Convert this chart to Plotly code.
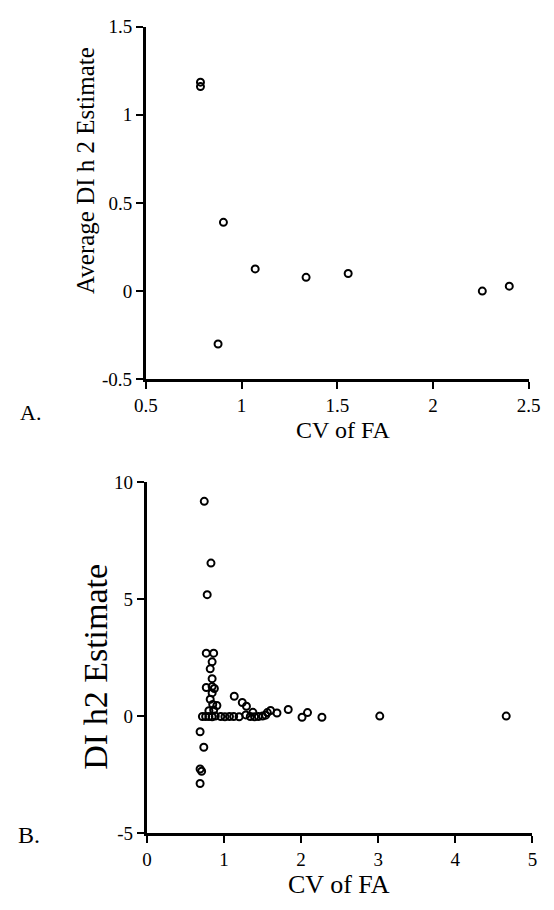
import plotly.graph_objects as go

# Panel A data
a_cv = [0.785, 0.785, 0.905, 1.071, 1.337, 1.557, 2.258, 2.399, 0.877]
a_h2 = [1.185, 1.16, 0.39, 0.126, 0.078, 0.10, 0.0, 0.028, -0.30]
a_xticks = [0.5, 1, 1.5, 2, 2.5]
a_xlabels = ["0.5", "1", "1.5", "2", "2.5"]
a_yticks = [-0.5, 0, 0.5, 1, 1.5]
a_ylabels = ["-0.5", "0", "0.5", "1", "1.5"]

# Panel B data
b_cv = [0.744, 0.831, 0.782,
        0.770, 0.866, 0.846, 0.821, 0.846, 0.770, 0.846, 0.875, 0.846, 0.821, 0.854, 0.908, 0.804, 0.866,
        1.133, 1.237, 1.291, 1.375, 1.562, 1.604, 1.687, 1.833, 2.012, 2.083, 2.270, 3.020, 4.660,
        0.720, 0.762, 0.804, 0.846, 0.887, 0.958, 1.012, 1.071, 1.125, 1.196, 1.283, 1.341, 1.396, 1.446, 1.500, 1.540,
        0.690, 0.738, 0.690, 0.710, 0.690]
b_h2 = [9.18, 6.54, 5.19,
        2.69, 2.69, 2.32, 2.02, 1.60, 1.22, 1.26, 1.18, 0.99, 0.72, 0.50, 0.45, 0.23, 0.26,
        0.85, 0.58, 0.42, 0.16, 0.15, 0.24, 0.13, 0.28, -0.05, 0.15, -0.05, 0.0, 0.0,
        -0.02, -0.02, -0.02, -0.03, 0.0, -0.02, -0.03, -0.02, -0.02, -0.03, 0.05, -0.02, -0.03, -0.02, 0.0, 0.04,
        -0.67, -1.33, -2.26, -2.36, -2.88]
b_xticks = [0, 1, 2, 3, 4, 5]
b_xlabels = ["0", "1", "2", "3", "4", "5"]
b_yticks = [-5, 0, 5, 10]
b_ylabels = ["-5", "0", "5", "10"]

W, H = 554, 910
FONT = "Liberation Serif, Times New Roman, serif"

def px(x):
    return x / W

def py(y):
    return 1 - y / H

marker = dict(symbol="circle-open", size=7, color="black", line=dict(width=2, color="black"))

fig = go.Figure()
fig.add_trace(go.Scatter(x=a_cv, y=a_h2, mode="markers", marker=marker, xaxis="x", yaxis="y", showlegend=False))
fig.add_trace(go.Scatter(x=b_cv, y=b_h2, mode="markers", marker=marker, xaxis="x2", yaxis="y2", showlegend=False))

axis_common = dict(showline=True, linewidth=3, linecolor="black", showgrid=False, zeroline=False,
                   ticks="outside", ticklen=7, tickwidth=2, tickcolor="black",
                   tickfont=dict(family=FONT, size=19, color="black"), fixedrange=True)

fig.update_layout(
    width=W, height=H,
    margin=dict(l=0, r=0, t=0, b=0),
    paper_bgcolor="white", plot_bgcolor="white",
    xaxis=dict(domain=[px(140), px(540)], range=[0.5, 2.5], tickvals=a_xticks,
               ticktext=a_xlabels, anchor="y", **axis_common),
    yaxis=dict(domain=[py(378), py(17)], range=[-0.5, 1.5], tickvals=a_yticks,
               ticktext=a_ylabels, anchor="x", **axis_common),
    xaxis2=dict(domain=[px(141), px(544)], range=[0, 5], tickvals=b_xticks, ticktext=b_xlabels,
                anchor="y2", **axis_common),
    yaxis2=dict(domain=[py(842.5), py(483.3)], range=[-5, 10], tickvals=b_yticks, ticktext=b_ylabels,
                anchor="x2", **axis_common),
)

annots = [
    dict(text="Average DI h 2 Estimate", x=px(77), y=py(164), textangle=-90, size=25),
    dict(text="CV of FA", x=px(346), y=py(430), textangle=0, size=24),
    dict(text="A.", x=px(19), y=py(412), textangle=0, size=22),
    dict(text="DI h2 Estimate", x=px(87), y=py(672), textangle=-90, size=34),
    dict(text="CV of FA", x=px(342), y=py(895), textangle=0, size=26),
    dict(text="B.", x=px(18), y=py(844), textangle=0, size=24),
]
for a in annots:
    fig.add_annotation(text=a["text"], x=a["x"], y=a["y"], xref="paper", yref="paper",
                       xanchor="center", yanchor="middle", showarrow=False, textangle=a["textangle"],
                       font=dict(family=FONT, size=a["size"], color="black"))

fig.write_html("out.html")
